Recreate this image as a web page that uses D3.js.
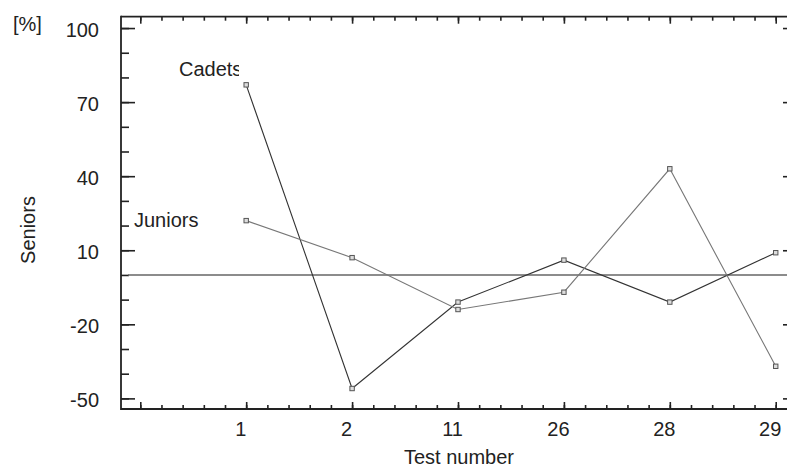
<!DOCTYPE html>
<html>
<head>
<meta charset="utf-8">
<script src="https://cdn.jsdelivr.net/npm/d3@7"></script>
<style>
  html, body { margin: 0; padding: 0; background: #fff; }
  svg { display: block; }
  text { font-family: "Liberation Sans", Arial, Helvetica, sans-serif; fill: #222; }
</style>
</head>
<body>
<svg id="chart" width="787" height="468"></svg>
<script>
// ---- data ----
const categories = ["1", "2", "11", "26", "28", "29"];
const cadets  = [77, -46, -11, 6, -11, 9];
const juniors = [22, 7, -14, -7, 43, -37];
const yMajorTicks = [-50, -20, 10, 40, 70, 100];
const yMinorTicks = [-50, -40, -30, -20, -10, 0, 10, 20, 30, 40, 50, 60, 70, 80, 90, 100];
const seriesNames = ["Cadets", "Juniors"];
const yUnit = "[%]";
const yTitle = "Seniors";
const xTitle = "Test number";

// ---- layout ----
const svg = d3.select("#chart");
const pLeft = 121, pRight = 797, pTop = 16.7, pBottom = 409;
const fs = 20;

const x = d3.scaleLinear().domain([-0.2, 6.2]).range([119.1, 796.9]);
const y = d3.scaleLinear().domain([-54.3, 104.6]).range([pBottom, pTop]);

const xMajor = d3.range(0, 7);
const xMinor = d3.range(0, 31).map(d => d / 5);

const axisColor = "#222";
function styleAxis(g) {
  g.select(".domain").remove();
  g.selectAll(".tick line").attr("stroke", axisColor).attr("stroke-width", 1.6);
  g.selectAll(".tick text").attr("font-size", fs).attr("fill", "#222")
    .style("font-family", '"Liberation Sans", Arial, sans-serif');
}

// left axis
svg.append("g").attr("transform", `translate(${pLeft},0)`)
  .call(d3.axisLeft(y).tickValues(yMinorTicks).tickSize(-8).tickFormat(""))
  .call(styleAxis);
svg.append("g").attr("transform", `translate(${pLeft},0)`)
  .call(d3.axisLeft(y).tickValues(yMajorTicks).tickSize(-14).tickPadding(22).tickFormat(d => String(d)))
  .call(styleAxis)
  .call(g => g.selectAll(".tick text").attr("dy", "0.42em"));

// right axis (majors only visible)
svg.append("g").attr("transform", `translate(${pRight},0)`)
  .call(d3.axisRight(y).tickValues(yMajorTicks).tickSize(-14).tickFormat(""))
  .call(styleAxis);

// bottom axis
svg.append("g").attr("transform", `translate(0,${pBottom})`)
  .call(d3.axisBottom(x).tickValues(xMinor).tickSize(-4).tickFormat(""))
  .call(styleAxis);
svg.append("g").attr("transform", `translate(0,${pBottom})`)
  .call(d3.axisBottom(x).tickValues(xMajor).tickSize(-7).tickPadding(12.8)
    .tickFormat(d => d >= 1 ? categories[d - 1] : ""))
  .call(styleAxis)
  .call(g => g.selectAll(".tick text").attr("dx", -6));

// top axis
svg.append("g").attr("transform", `translate(0,${pTop})`)
  .call(d3.axisTop(x).tickValues(xMinor).tickSize(-4).tickFormat(""))
  .call(styleAxis);
svg.append("g").attr("transform", `translate(0,${pTop})`)
  .call(d3.axisTop(x).tickValues(xMajor).tickSize(-7).tickFormat(""))
  .call(styleAxis);

// frame lines
const frame = svg.append("g").attr("stroke", axisColor).attr("stroke-width", 1.8).attr("fill", "none");
frame.append("line").attr("x1", pLeft).attr("x2", pLeft).attr("y1", pTop - 0.9).attr("y2", pBottom + 0.9);
frame.append("line").attr("x1", pLeft).attr("x2", pRight).attr("y1", pBottom).attr("y2", pBottom);
frame.append("line").attr("x1", pLeft).attr("x2", pRight).attr("y1", pTop).attr("y2", pTop);
frame.append("line").attr("x1", pRight).attr("x2", pRight).attr("y1", pTop).attr("y2", pBottom);

// zero line
svg.append("line")
  .attr("x1", 128).attr("x2", pRight)
  .attr("y1", y(0)).attr("y2", y(0))
  .attr("stroke", "#666").attr("stroke-width", 1.4);

// series
const series = [
  { name: seriesNames[0], values: cadets,  color: "#333" },
  { name: seriesNames[1], values: juniors, color: "#777" }
];
const line = d3.line().x((d, i) => x(i + 1)).y(d => y(d));
series.forEach(s => {
  svg.append("path").datum(s.values)
    .attr("d", line).attr("fill", "none")
    .attr("stroke", s.color).attr("stroke-width", 1.1);
});
series.forEach(s => {
  svg.append("g").selectAll("rect").data(s.values).join("rect")
    .attr("x", (d, i) => x(i + 1) - 2.2).attr("y", d => y(d) - 2.2)
    .attr("width", 4.4).attr("height", 4.4)
    .attr("fill", "#ddd").attr("stroke", "#555").attr("stroke-width", 1);
});

// series labels
svg.append("defs").append("clipPath").attr("id", "cadclip")
  .append("rect").attr("x", 0).attr("y", 0).attr("width", 239).attr("height", 468);
svg.append("text").attr("x", 179).attr("y", 76).attr("font-size", fs)
  .attr("clip-path", "url(#cadclip)").text(series[0].name);
svg.append("text").attr("x", 134).attr("y", 227).attr("font-size", fs)
  .text(series[1].name);

// titles
svg.append("text").attr("x", 13).attr("y", 31).attr("font-size", fs).text(yUnit);
svg.append("text")
  .attr("transform", "translate(35,230) rotate(-90)")
  .attr("text-anchor", "middle").attr("font-size", fs).text(yTitle);
svg.append("text").attr("x", 459).attr("y", 464)
  .attr("text-anchor", "middle").attr("font-size", fs).text(xTitle);
</script>
</body>
</html>
